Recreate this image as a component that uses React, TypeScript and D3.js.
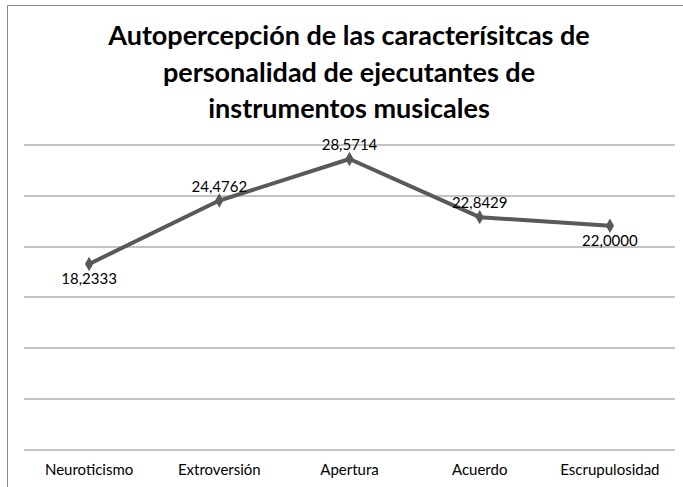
import { useEffect, useRef } from "react";
import * as d3 from "d3";

const categories = ["Neuroticismo", "Extroversión", "Apertura", "Acuerdo", "Escrupulosidad"];
const values = [18.2333, 24.4762, 28.5714, 22.8429, 22.0];
const labelBelow = [true, false, false, false, true];
const yTicks = [0, 5, 10, 15, 20, 25, 30];
const titleLines = [
  "Autopercepción de las caracterísitcas de",
  "personalidad de ejecutantes de",
  "instrumentos musicales",
];

const W = 683;
const H = 487;
const FONT = "Lato, 'Liberation Sans', sans-serif";

export default function App() {
  const svgRef = useRef<SVGSVGElement>(null);

  useEffect(() => {
    if (!svgRef.current) return;
    const svg = d3.select(svgRef.current);
    svg.selectAll("*").remove();

    const margin = { top: 144.5, right: 8, bottom: 38, left: 24 };
    const innerW = W - margin.left - margin.right;
    const innerH = H - margin.top - margin.bottom;

    // chart frame (only left and top edges are visible in the crop)
    svg.append("rect").attr("width", W).attr("height", H).attr("fill", "#fff");
    svg
      .append("path")
      .attr("d", `M7.5,${H} V5.5 H${W}`)
      .attr("fill", "none")
      .attr("stroke", "#868686")
      .attr("stroke-width", 1);

    const title = svg
      .append("text")
      .attr("text-anchor", "middle")
      .attr("font-family", FONT)
      .attr("font-weight", "bold")
      .attr("font-size", 27)
      .attr("fill", "#000");
    titleLines.forEach((t, i) => {
      title.append("tspan").attr("x", 349).attr("y", 45 + i * 36.5).text(t);
    });

    const g = svg.append("g").attr("transform", `translate(${margin.left},${margin.top})`);

    const x = d3.scaleBand<string>().domain(categories).range([0, innerW]);
    const y = d3.scaleLinear().domain([0, 30]).range([innerH, 0]);

    g.selectAll("line.grid")
      .data(yTicks)
      .join("line")
      .attr("class", "grid")
      .attr("x1", 0)
      .attr("x2", innerW)
      .attr("y1", (d) => Math.round(y(d)) + 0.5)
      .attr("y2", (d) => Math.round(y(d)) + 0.5)
      .attr("stroke", "#868686")
      .attr("stroke-width", 1);

    g.selectAll("text.cat")
      .data(categories)
      .join("text")
      .attr("class", "cat")
      .attr("x", (d) => x(d)! + x.bandwidth() / 2)
      .attr("y", innerH + 26)
      .attr("text-anchor", "middle")
      .attr("font-family", FONT)
      .attr("font-size", 15)
      .attr("fill", "#000")
      .text((d) => d);

    const cx = (i: number) => x(categories[i])! + x.bandwidth() / 2;

    const line = d3
      .line<number>()
      .x((_, i) => cx(i))
      .y((d) => y(d));

    g.append("path")
      .datum(values)
      .attr("d", line)
      .attr("fill", "none")
      .attr("stroke", "#595959")
      .attr("stroke-width", 4)
      .attr("stroke-linejoin", "round");

    g.selectAll("path.marker")
      .data(values)
      .join("path")
      .attr("class", "marker")
      .attr("d", d3.symbol(d3.symbolDiamond, 60)())
      .attr("transform", (d, i) => `translate(${cx(i)},${y(d)})`)
      .attr("fill", "#595959");

    g.selectAll("text.val")
      .data(values)
      .join("text")
      .attr("class", "val")
      .attr("x", (_, i) => cx(i))
      .attr("y", (d, i) => y(d) + (labelBelow[i] ? 20 : -9))
      .attr("text-anchor", "middle")
      .attr("font-family", FONT)
      .attr("font-size", 15)
      .attr("fill", "#000")
      .text((d) => d.toFixed(4).replace(".", ","));
  }, []);

  return (
    <svg
      ref={svgRef}
      width={W}
      height={H}
      style={{ position: "absolute", left: 0, top: 0, display: "block" }}
    />
  );
}
